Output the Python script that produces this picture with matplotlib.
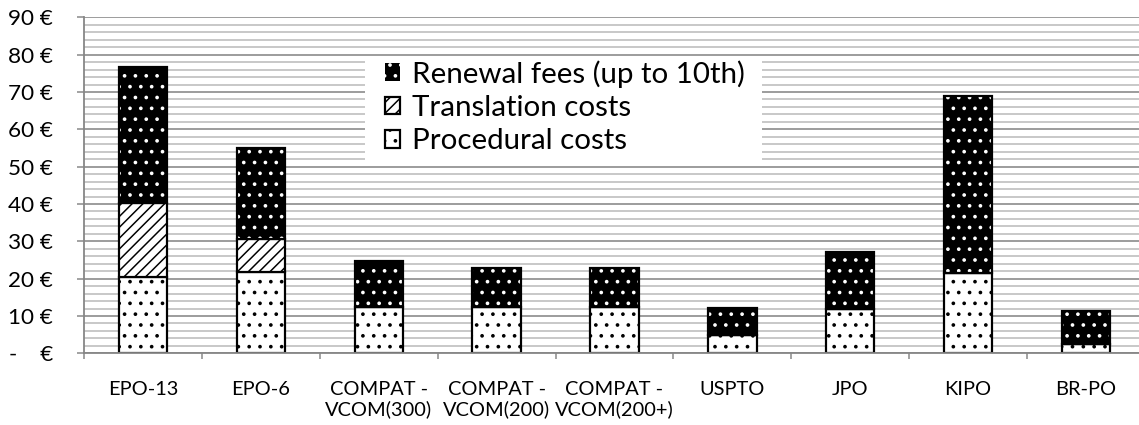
import numpy as np
import matplotlib
matplotlib.use('Agg')
import matplotlib.pyplot as plt
from matplotlib import rcParams
from matplotlib.patches import Rectangle
import matplotlib.transforms as mtransforms

# data (EUR)
offices = ['EPO-13', 'EPO-6', 'COMPAT -\nVCOM(300)', 'COMPAT -\nVCOM(200)', 'COMPAT -\nVCOM(200+)',
           'USPTO', 'JPO', 'KIPO', 'BR-PO']
procedural = [20.4, 21.9, 12.5, 12.5, 12.5, 4.8, 12.0, 21.4, 2.6]
translation = [19.8, 8.6, 0, 0, 0, 0, 0, 0, 0]
renewal = [36.6, 24.4, 12.3, 10.3, 10.3, 7.4, 15.2, 47.5, 8.7]
yticks = [0, 10, 20, 30, 40, 50, 60, 70, 80, 90]
ytick_labels = ['-    €'] + ['%d €' % v for v in yticks[1:]]

DPI = 130
W, H = 1139, 425


def px(p):
    # pixels -> points
    return p * 72.0 / DPI


rcParams['font.family'] = ['Lato', 'DejaVu Sans']
rcParams['hatch.linewidth'] = px(1.5)

fig = plt.figure(figsize=(W / DPI, H / DPI), dpi=DPI)
ax = fig.add_axes([84 / W, (H - 353.3) / H, (1145 - 84) / W, (353.3 - 17.3) / H])

x = np.arange(len(offices))
proc = np.array(procedural)
trans = np.array(translation)
ren = np.array(renewal)
bw = 0.41
edge = px(2.2)

b_proc = ax.bar(x, proc, bw, color='white', edgecolor='black', hatch='..', lw=edge, zorder=3,
                label='Procedural costs')
b_trans = ax.bar(x, trans, bw, bottom=proc, color='white', edgecolor='black', hatch='////', lw=edge,
                 zorder=3, label='Translation costs')
b_ren = ax.bar(x, ren, bw, bottom=proc + trans, color='black', edgecolor='white', hatch='..', lw=0,
               zorder=3, label='Renewal fees (up to 10th)')
ax.bar(x, ren, bw, bottom=proc + trans, fill=False, edgecolor='black', lw=edge, zorder=4)

ax.set_xlim(-0.5, len(offices) - 0.5)
ax.set_ylim(0, 90)

# grid: major every 10, light lines every 2
ax.set_yticks(yticks)
ax.set_yticklabels(ytick_labels)
ax.set_yticks(np.arange(0, 91, 2), minor=True)
ax.yaxis.grid(True, which='major', color='#868686', lw=px(1.6), zorder=1)
ax.yaxis.grid(True, which='minor', color='#c4c4c4', lw=px(1.8), zorder=0)
ax.tick_params(axis='y', which='major', length=px(7), width=px(1.5), color='#868686',
               pad=px(24), labelsize=px(22.5))
ax.tick_params(axis='y', which='minor', length=0)

# category boundaries as ticks, names centered on bars
ax.set_xticks(np.arange(-0.5, len(offices), 1.0))
ax.set_xticklabels([])
ax.set_xticks(x, minor=True)
ax.set_xticklabels(offices, minor=True, linespacing=1.15)
ax.tick_params(axis='x', which='major', length=px(6), width=px(1.5), color='#868686')
ax.tick_params(axis='x', which='minor', length=0, pad=px(28), labelsize=px(20))

for s in ['top', 'right']:
    ax.spines[s].set_visible(False)
for s in ['left', 'bottom']:
    ax.spines[s].set_color('#868686')
    ax.spines[s].set_linewidth(px(1.8))
    ax.spines[s].set_zorder(5)

# white panel behind the legend
tr = mtransforms.blended_transform_factory(fig.transFigure, ax.transData)
ax.add_patch(Rectangle((365 / W, 50.3), (762 - 365) / W, 29.4, transform=tr,
                       facecolor='white', edgecolor='none', zorder=2))

leg = ax.legend(handles=[b_ren, b_trans, b_proc], loc='upper left',
                bbox_to_anchor=(385 / W, 1 - 60 / H), bbox_transform=fig.transFigure,
                frameon=False, fontsize=px(29.5), handlelength=0.5, handleheight=0.55,
                handletextpad=0.4, labelspacing=0.25, borderpad=0, borderaxespad=0)
leg.set_zorder(6)

fig.savefig('out.png', dpi=DPI)
